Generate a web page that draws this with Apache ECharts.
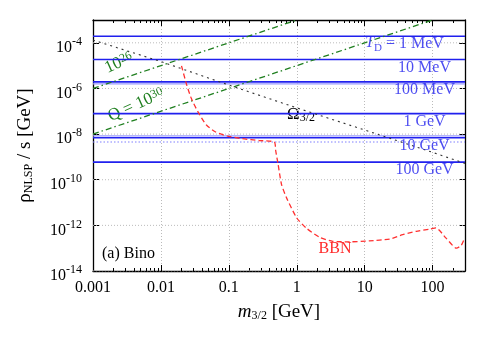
<!DOCTYPE html>
<html>
<head>
<meta charset="utf-8">
<script src="https://cdn.jsdelivr.net/npm/echarts@6/dist/echarts.min.js"></script>
<style>
  html, body { margin: 0; padding: 0; background: #fff; }
  #main { width: 491px; height: 343px; }
</style>
</head>
<body>
<div id="main"></div>
<script>
// axis ticks
var xTicks = [0.001, 0.01, 0.1, 1, 10, 100];
var xTickLabels = ['0.001', '0.01', '0.1', '1', '10', '100'];
var yTicks = [1e-14, 1e-12, 1e-10, 1e-8, 1e-6, 1e-4];
var yTickExps = ['-14', '-12', '-10', '-8', '-6', '-4'];
var xRange = [0.001, 300];

// T_D lines (horizontal)
var tdValues = [1.95e-4, 1.86e-5, 1.95e-6, 7.9e-8, 6.9e-9, 5.9e-10];
var tdLabels = ['1 MeV', '10 MeV', '100 MeV', '1 GeV', '10 GeV', '100 GeV'];
var tdExtra = [1.6e-6, 8.3e-9];
var dottedLevel = [4.5e-9];

// Omega_3/2
var omegaM = [0.001, 0.01, 0.1, 1, 10, 100, 300];
var omegaY = [1.32e-4, 1.51e-5, 1.41e-6, 1.41e-7, 1.51e-8, 1.58e-9, 5.2e-10];

// Q lines
var q26M = [0.001, 1];
var q26Y = [1e-6, 1e-3];
var q30M = [0.001, 100];
var q30Y = [1e-8, 1e-3];

// BBN bound
var bbnM = [0.0201, 0.024, 0.0282, 0.0355, 0.0468, 0.063, 0.0933, 0.158, 0.282, 0.468,
            0.49, 0.531, 0.596, 0.708, 1.0, 1.38, 2.19, 3.39, 6.03, 11.7,
            23.4, 36.3, 57.5, 91.2, 112, 158, 224, 263, 295];
var bbnY = [9.8e-6, 1.4e-6, 3.5e-7, 8.9e-8, 2.5e-8, 1.26e-8, 8.3e-9, 6.3e-9, 5.2e-9, 4.5e-9,
            1.86e-9, 4.8e-10, 6.3e-11, 1.6e-11, 2.1e-12, 7.6e-13, 2.95e-13, 2.0e-13, 1.9e-13, 2.1e-13,
            2.5e-13, 3.9e-13, 5.5e-13, 6.9e-13, 7.8e-13, 2.75e-13, 1.0e-13, 1.3e-13, 2.75e-13];

var serif = 'Liberation Serif';
var blue = '#2020ee';
var green = '#1f7f1f';

var minorX = [];
for (var e = -3; e <= 2; e++) {
  for (var k = 2; k <= 9; k++) {
    var v = k * Math.pow(10, e);
    if (v < 300) minorX.push(v);
  }
}

function pairs(xs, ys) {
  return xs.map(function (x, i) { return [x, ys[i]]; });
}
function findIdx(arr, v) {
  for (var i = 0; i < arr.length; i++) {
    if (Math.abs(Math.log10(arr[i]) - Math.log10(v)) < 1e-6) return i;
  }
  return -1;
}
// horizontal line across the whole x range
function hLine(v, color, type, width, z) {
  return {
    type: 'line', silent: true, symbol: 'none', showSymbol: false, z: z,
    color: color,
    data: [[xRange[0], v], [xRange[1], v]],
    lineStyle: { color: color, type: type, width: width }
  };
}

var frame = { show: true, lineStyle: { color: '#000', width: 1.3 } };
var tickStyle = { color: '#000', width: 1 };

var series = [];
yTicks.forEach(function (v) {
  series.push(hLine(v, '#bbbbbb', [1, 2], 1, 1));
});
tdExtra.forEach(function (v) {
  series.push(hLine(v, '#9a9aff', 'solid', 1.2, 2));
});
dottedLevel.forEach(function (v) {
  series.push(hLine(v, '#8080ff', [1.5, 2], 1.2, 2));
});
tdValues.forEach(function (v) {
  series.push(hLine(v, blue, 'solid', 1.6, 2));
});

var tdLabelData = tdValues.map(function (v, i) {
  return {
    value: [76, v],
    label: {
      formatter: i === 0 ? '{i|T}{s|D} = ' + tdLabels[i] : tdLabels[i],
      offset: i === 0 ? [-20, 8] : [0, 8]
    }
  };
});

series.push(
  {
    name: 'Q26', type: 'line', showSymbol: false, symbol: 'none', z: 3, color: green,
    data: pairs(q26M, q26Y),
    lineStyle: { color: green, width: 1.3, type: [6, 3, 1.5, 3] }
  },
  {
    name: 'Q30', type: 'line', showSymbol: false, symbol: 'none', z: 3, color: green,
    data: pairs(q30M, q30Y),
    lineStyle: { color: green, width: 1.3, type: [6, 3, 1.5, 3] }
  },
  {
    name: 'Omega', type: 'line', showSymbol: false, symbol: 'none', z: 4, color: '#333',
    data: pairs(omegaM, omegaY),
    lineStyle: { color: '#333', width: 1.1, type: [2, 4] }
  },
  {
    name: 'BBN', type: 'line', showSymbol: false, symbol: 'none', smooth: 0.2, z: 5, color: '#ff3030',
    data: pairs(bbnM, bbnY),
    lineStyle: { color: '#ff3030', width: 1.3, type: [5, 3] }
  },
  {
    name: 'TD labels', type: 'scatter', symbolSize: 0, silent: true, z: 6,
    data: tdLabelData,
    label: {
      show: true, position: 'inside', color: blue,
      fontFamily: serif, fontSize: 16,
      rich: {
        i: { fontFamily: serif, fontSize: 16, fontStyle: 'italic', color: blue, lineHeight: 18, verticalAlign: 'top' },
        s: { fontFamily: serif, fontSize: 11, color: blue, lineHeight: 11, verticalAlign: 'bottom' }
      }
    }
  }
);

var chart = echarts.init(document.getElementById('main'));

var option = {
  animation: false,
  grid: { left: 93, right: 26, top: 20, bottom: 72 },
  xAxis: [
    {
      type: 'log', logBase: 10, min: xRange[0], max: xRange[1], position: 'bottom',
      axisLine: frame,
      axisTick: { inside: true, length: 6, customValues: xTicks, lineStyle: tickStyle },
      axisLabel: {
        customValues: xTicks,
        formatter: function (v) { var i = findIdx(xTicks, v); return i < 0 ? '' : xTickLabels[i]; },
        fontFamily: serif, fontSize: 16, color: '#000', margin: 9
      },
      splitLine: { show: true, lineStyle: { color: '#bbb', type: [1, 2], width: 1 } },
      name: '{i|m}{s|3/2} [GeV]',
      nameLocation: 'middle', nameGap: 31,
      nameTextStyle: {
        fontFamily: serif, fontSize: 19, color: '#000',
        rich: {
          i: { fontFamily: serif, fontSize: 19, fontStyle: 'italic', lineHeight: 20, verticalAlign: 'top' },
          s: { fontFamily: serif, fontSize: 12, lineHeight: 12, verticalAlign: 'bottom' }
        }
      }
    },
    {
      type: 'log', logBase: 10, min: xRange[0], max: xRange[1], position: 'top',
      axisLine: frame,
      axisTick: { inside: true, length: 6, customValues: xTicks, lineStyle: tickStyle },
      axisLabel: { show: false },
      splitLine: { show: false }
    },
    {
      type: 'log', logBase: 10, min: xRange[0], max: xRange[1], position: 'bottom',
      axisLine: { show: false },
      axisTick: { inside: true, length: 3, customValues: minorX, lineStyle: tickStyle },
      axisLabel: { show: false },
      splitLine: { show: false }
    },
    {
      type: 'log', logBase: 10, min: xRange[0], max: xRange[1], position: 'top',
      axisLine: { show: false },
      axisTick: { inside: true, length: 3, customValues: minorX, lineStyle: tickStyle },
      axisLabel: { show: false },
      splitLine: { show: false }
    }
  ],
  yAxis: [
    {
      type: 'log', logBase: 10, min: 1e-14, max: 1e-3, position: 'left',
      axisLine: frame,
      axisTick: { inside: true, length: 6, customValues: yTicks, lineStyle: tickStyle },
      axisLabel: {
        customValues: yTicks,
        formatter: function (v) { var i = findIdx(yTicks, v); return i < 0 ? '' : '{b|10}{p|' + yTickExps[i] + '}'; },
        margin: 11, padding: [6, 0, 0, 0],
        rich: {
          b: { fontFamily: serif, fontSize: 16, color: '#000', lineHeight: 20, verticalAlign: 'bottom' },
          p: { fontFamily: serif, fontSize: 12, color: '#000', lineHeight: 12, verticalAlign: 'top' }
        }
      },
      splitLine: { show: false },
      name: 'ρ{s|NLSP} / s [GeV]',
      nameLocation: 'middle', nameGap: 58, nameRotate: 90,
      nameTextStyle: {
        fontFamily: serif, fontSize: 19, color: '#000',
        rich: {
          s: { fontFamily: serif, fontSize: 12, lineHeight: 12, verticalAlign: 'bottom' }
        }
      }
    },
    {
      type: 'log', logBase: 10, min: 1e-14, max: 1e-3, position: 'right',
      axisLine: frame,
      axisTick: { inside: true, length: 6, customValues: yTicks, lineStyle: tickStyle },
      axisLabel: { show: false },
      splitLine: { show: false }
    }
  ],
  series: series,
  graphic: [
    {
      type: 'text', x: 119, y: 63, rotation: 0.42,
      style: {
        text: '10{p|26}', align: 'center', verticalAlign: 'middle',
        fill: green, fontFamily: serif, fontSize: 17,
        rich: {
          p: { fontFamily: serif, fontSize: 12, fill: green, lineHeight: 12, verticalAlign: 'top' }
        }
      }
    },
    {
      type: 'text', x: 136, y: 105, rotation: 0.42,
      style: {
        text: 'Q = 10{p|30}', align: 'center', verticalAlign: 'middle',
        fill: green, fontFamily: serif, fontSize: 17,
        rich: {
          p: { fontFamily: serif, fontSize: 12, fill: green, lineHeight: 12, verticalAlign: 'top' }
        }
      }
    },
    {
      type: 'text', x: 287, y: 115,
      style: {
        text: 'Ω{s|3/2}', align: 'left', verticalAlign: 'middle',
        fill: '#000', fontFamily: serif, fontSize: 17,
        rich: {
          s: { fontFamily: serif, fontSize: 12, fill: '#000', lineHeight: 12, verticalAlign: 'bottom' }
        }
      }
    },
    {
      type: 'text', x: 335, y: 249,
      style: { text: 'BBN', align: 'center', verticalAlign: 'middle', fill: '#ff2a2a', fontFamily: serif, fontSize: 16 }
    },
    {
      type: 'text', x: 102, y: 254,
      style: { text: '(a) Bino', align: 'left', verticalAlign: 'middle', fill: '#000', fontFamily: serif, fontSize: 16 }
    }
  ]
};

chart.setOption(option);
</script>
</body>
</html>
